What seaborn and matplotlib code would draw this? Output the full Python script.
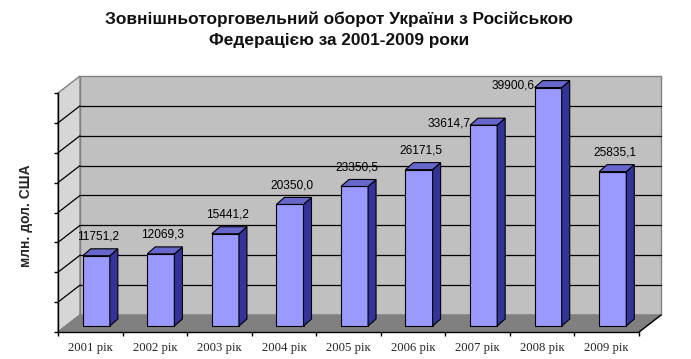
import matplotlib
matplotlib.use("Agg")
import matplotlib.pyplot as plt
import seaborn as sns
import numpy as np
import pandas as pd
from matplotlib.patches import Polygon, Rectangle

# ---- data ----
years = ["2001 рік", "2002 рік", "2003 рік", "2004 рік", "2005 рік",
         "2006 рік", "2007 рік", "2008 рік", "2009 рік"]
values = [11751.2, 12069.3, 15441.2, 20350.0, 23350.5,
          26171.5, 33614.7, 39900.6, 25835.1]
y_ticks = [0, 5000, 10000, 15000, 20000, 25000, 30000, 35000, 40000]
title = "Зовнішньоторговельний оборот України з Російською\nФедерацією за 2001-2009 роки"
ylabel = "млн. дол. США"

df = pd.DataFrame({"year": years, "value": values})

sns.set_theme(style="white")
plt.rcParams["font.family"] = ["Liberation Sans", "DejaVu Sans"]

W, H, DPI = 691, 359, 100
fig = plt.figure(figsize=(W / DPI, H / DPI), dpi=DPI)
# front plane of the 3D box (pixels)
fx0, fx1, fy_top, fy_bot = 58, 639, 93, 332
ax = fig.add_axes([fx0 / W, (H - fy_bot) / H, (fx1 - fx0) / W, (fy_bot - fy_top) / H])

n = len(years)
xmin, xmax = -0.5, n - 0.5
ymax = y_ticks[-1]
ax.set_xlim(xmin, xmax)
ax.set_ylim(0, ymax)
ux = (xmax - xmin) / (fx1 - fx0)      # data per pixel, x
uy = ymax / (fy_bot - fy_top)         # data per pixel, y

DX, DY = 22, 17   # box depth in pixels
ddx, ddy = DX * ux, DY * uy

wall_edge = "#808080"
# back wall
ax.add_patch(Rectangle((xmin + ddx, ddy), xmax - xmin, ymax, facecolor="#C0C0C0",
                       edgecolor=wall_edge, lw=1, clip_on=False, zorder=0))
# left wall
ax.add_patch(Polygon([(xmin, 0), (xmin + ddx, ddy), (xmin + ddx, ymax + ddy), (xmin, ymax)],
                     closed=True, facecolor="#D6D6D6", edgecolor=wall_edge, lw=1,
                     clip_on=False, zorder=0))
# floor
ax.add_patch(Polygon([(xmin, 0), (xmax, 0), (xmax + ddx, ddy), (xmin + ddx, ddy)],
                     closed=True, facecolor="#808080", edgecolor="#808080", lw=1,
                     clip_on=False, zorder=0.5))
ax.plot([xmax, xmax + ddx], [0, ddy], color="black", lw=1, clip_on=False, zorder=0.6)

# gridlines on back and left walls
for v in y_ticks[1:-1]:
    ax.plot([xmin + ddx, xmax + ddx], [v + ddy, v + ddy], color="black", lw=0.9,
            clip_on=False, zorder=0.3)
    ax.plot([xmin, xmin + ddx], [v, v + ddy], color="black", lw=0.9,
            clip_on=False, zorder=0.3)

# ---- bars (front faces via seaborn) ----
BAR_OFF = (6, 6)      # pixels: bar front offset into the box
BAR_DEPTH = (8, 7)    # pixels: bar depth
front_c, side_c, top_c = "#9999FF", "#333399", "#6666CC"
sns.barplot(data=df, x="year", y="value", color=front_c, saturation=1,
            edgecolor="black", linewidth=0.8, width=0.42, ax=ax, zorder=2)
ax.set_xlim(xmin, xmax)
ax.set_ylim(0, ymax)
ox, oy = BAR_OFF[0] * ux, BAR_OFF[1] * uy
bx, by = BAR_DEPTH[0] * ux, BAR_DEPTH[1] * uy
bars = list(ax.patches)[-n:]
for p, v in zip(bars, values):
    x0 = p.get_x() + ox
    w = p.get_width()
    h = p.get_height()
    y0 = p.get_y() + oy
    p.set_x(x0)
    p.set_y(y0)
    p.set_clip_on(False)
    side = Polygon([(x0 + w, y0), (x0 + w + bx, y0 + by), (x0 + w + bx, y0 + h + by), (x0 + w, y0 + h)],
                   closed=True, facecolor=side_c, edgecolor="black", lw=0.8, clip_on=False, zorder=2)
    top = Polygon([(x0, y0 + h), (x0 + bx, y0 + h + by), (x0 + w + bx, y0 + h + by), (x0 + w, y0 + h)],
                  closed=True, facecolor=top_c, edgecolor="black", lw=0.8, clip_on=False, zorder=2)
    ax.add_patch(side)
    ax.add_patch(top)
    lbl = f"{v:.1f}".replace(".", ",")
    cx = x0 + w / 2
    if v > 30000:
        tx, ty = cx - 35 * ux, y0 + h + 2 * uy
    else:
        tx, ty = cx + 2 * ux, y0 + h + 19 * uy
    ax.text(tx, ty, lbl, ha="center", va="center", fontsize=8.6, color="black",
            family=["Liberation Sans", "DejaVu Sans"], zorder=3, clip_on=False)

# ---- axes, ticks, labels ----
for s in ["top", "right"]:
    ax.spines[s].set_visible(False)
for s in ["left", "bottom"]:
    ax.spines[s].set_visible(True)
    ax.spines[s].set_color("black")
    ax.spines[s].set_linewidth(1)
    ax.spines[s].set_zorder(1)
ax.set_yticks(y_ticks)
ax.set_yticklabels([])
ax.tick_params(axis="y", which="major", length=3, width=1, color="black", direction="out", left=True)
ax.set_xticks(np.arange(n + 1) - 0.5)
ax.set_xticklabels([])
ax.set_xticks(np.arange(n), minor=True)
ax.set_xticklabels(years, minor=True, fontsize=9.2, family=["Liberation Serif", "DejaVu Serif"])
ax.tick_params(axis="x", which="major", length=3, width=1, color="black", direction="out", bottom=True)
ax.tick_params(axis="x", which="minor", length=0, pad=7)
ax.set_xlabel("")
ax.set_ylabel(ylabel, fontsize=10, fontweight="bold")
ax.yaxis.set_label_coords((33 - fx0) / (fx1 - fx0), (fy_bot - 216) / (fy_bot - fy_top))
ax.grid(False)
ax.set_facecolor("none")

fig.text(339 / W, 1 - 30 / H, title, ha="center", va="center", fontsize=12.4,
         fontweight="bold", linespacing=1.5, color="#111111")

fig.savefig("out.png", dpi=DPI, facecolor="white")
